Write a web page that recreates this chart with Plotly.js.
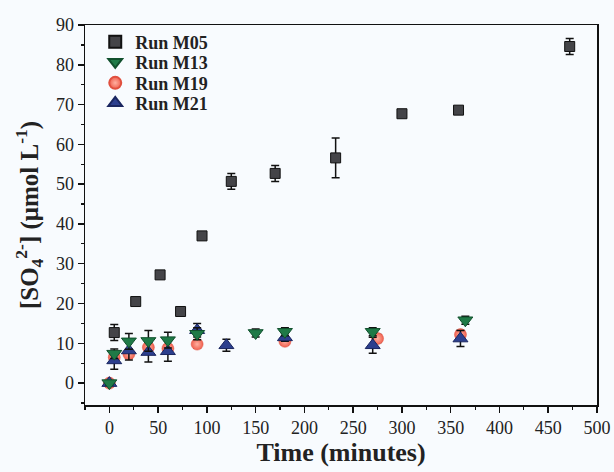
<!DOCTYPE html>
<html>
<head>
<meta charset="utf-8">
<script src="https://cdn.plot.ly/plotly-3.0.1.min.js"></script>
<style>html,body{margin:0;padding:0;background:#f8fbfe;}</style>
</head>
<body>
<div id="chart" style="width:614px;height:472px;"></div>
<script>
// Run M05
const m05_t = [5, 27, 52, 73, 95, 125, 170, 232, 300, 358, 472];
const m05_y = [12.7, 20.5, 27.2, 18.0, 37.0, 50.7, 52.7, 56.6, 67.7, 68.6, 84.6];
const m05_e = [2.0, 0, 0, 0, 0, 2.0, 2.0, 5.0, 0, 0, 2.0];
// Run M13
const m13_t = [0, 5, 20, 40, 60, 90, 150, 180, 270, 365];
const m13_y = [0, 7.4, 10.5, 10.6, 10.8, 12.4, 12.6, 12.9, 12.9, 15.8];
const m13_e = [0.5, 1.2, 2.0, 2.6, 2.0, 1.5, 1.0, 1.0, 1.0, 1.0];
// Run M19
const m19_t = [0, 5, 20, 40, 60, 90, 180, 275, 360];
const m19_y = [0, 6.5, 7.3, 9.0, 8.7, 9.8, 10.5, 11.2, 12.2];
const m19_e = [0.5, 1.0, 1.0, 1.0, 1.0, 1.0, 1.0, 1.0, 1.0];
// Run M21
const m21_t = [0, 5, 20, 40, 60, 90, 120, 180, 270, 360];
const m21_y = [0, 5.7, 8.2, 7.8, 8.0, 13.3, 9.5, 11.5, 9.5, 11.2];
const m21_e = [0.5, 2.2, 2.4, 2.5, 2.5, 1.7, 1.5, 1.0, 2.0, 2.0];

const names = ['Run M05', 'Run M13', 'Run M19', 'Run M21'];

function errY(arr) {
  return {type: 'data', array: arr, visible: true, color: '#111', thickness: 1.5, width: 4};
}

const traces = [
  {
    x: m19_t, y: m19_y, name: names[2], legend: 'legend3', mode: 'markers', type: 'scatter',
    error_y: errY(m19_e),
    marker: {symbol: 'circle', size: 12, color: '#f0604f',
             gradient: {type: 'radial', color: '#ffb0a0'},
             line: {color: '#e0503f', width: 0.5}}
  },
  {
    x: m21_t, y: m21_y, name: names[3], legend: 'legend4', mode: 'markers', type: 'scatter',
    error_y: errY(m21_e),
    marker: {symbol: 'triangle-up', size: 13, color: '#2c3f8e', line: {color: '#1a2660', width: 1}}
  },
  {
    x: m13_t, y: m13_y, name: names[1], legend: 'legend2', mode: 'markers', type: 'scatter',
    error_y: errY(m13_e),
    marker: {symbol: 'triangle-down', size: 13, color: '#1f7a47', line: {color: '#11502d', width: 1}}
  },
  {
    x: m05_t, y: m05_y, name: names[0], legend: 'legend', mode: 'markers', type: 'scatter',
    error_y: errY(m05_e),
    marker: {symbol: 'square', size: 10, color: '#444448', line: {color: '#111', width: 1}}
  }
];

function legendAt(yc) {
  return {x: 0.02, y: yc, xanchor: 'left', yanchor: 'middle', bgcolor: 'rgba(0,0,0,0)',
          font: {family: '"Liberation Serif", serif', size: 18, color: '#222', weight: 'bold'},
          itemsizing: 'constant'};
}

const layout = {
  width: 614, height: 472,
  paper_bgcolor: '#f8fbfe', plot_bgcolor: '#f8fbfe',
  margin: {l: 85, r: 17, t: 25, b: 67},
  font: {family: '"Liberation Serif", "DejaVu Serif", serif', color: '#222', size: 18},
  showlegend: true,
  legend: legendAt(0.955),
  legend2: legendAt(0.902),
  legend3: legendAt(0.847),
  legend4: legendAt(0.794),
  xaxis: {
    range: [-25, 500], showgrid: false, zeroline: false,
    tickmode: 'linear', tick0: 0, dtick: 50,
    ticks: 'outside', ticklen: 6, tickwidth: 1.5, tickcolor: '#111',
    minor: {tickmode: 'linear', tick0: 25, dtick: 50, ticks: 'outside', ticklen: 3, tickwidth: 1.2, tickcolor: '#111'},
    showline: true, linecolor: '#111', linewidth: 1.5, mirror: true,
    tickfont: {size: 18},
    title: {text: 'Time (minutes)', font: {size: 26, weight: 'bold', color: '#222'}, standoff: 4}
  },
  yaxis: {
    range: [-5.5, 90], showgrid: false, zeroline: false,
    tickmode: 'linear', tick0: 0, dtick: 10,
    ticks: 'outside', ticklen: 6, tickwidth: 1.5, tickcolor: '#111',
    minor: {tickmode: 'linear', tick0: 5, dtick: 10, ticks: 'outside', ticklen: 3, tickwidth: 1.2, tickcolor: '#111'},
    showline: true, linecolor: '#111', linewidth: 1.5, mirror: true,
    tickfont: {size: 18},
    title: {text: '[SO<sub>4</sub><sup>2-</sup>] (μmol L<sup>-1</sup>)', font: {size: 25, weight: 'bold', color: '#222'}, standoff: 10}
  }
};

Plotly.newPlot('chart', traces, layout, {displayModeBar: false, staticPlot: true});
</script>
</body>
</html>
